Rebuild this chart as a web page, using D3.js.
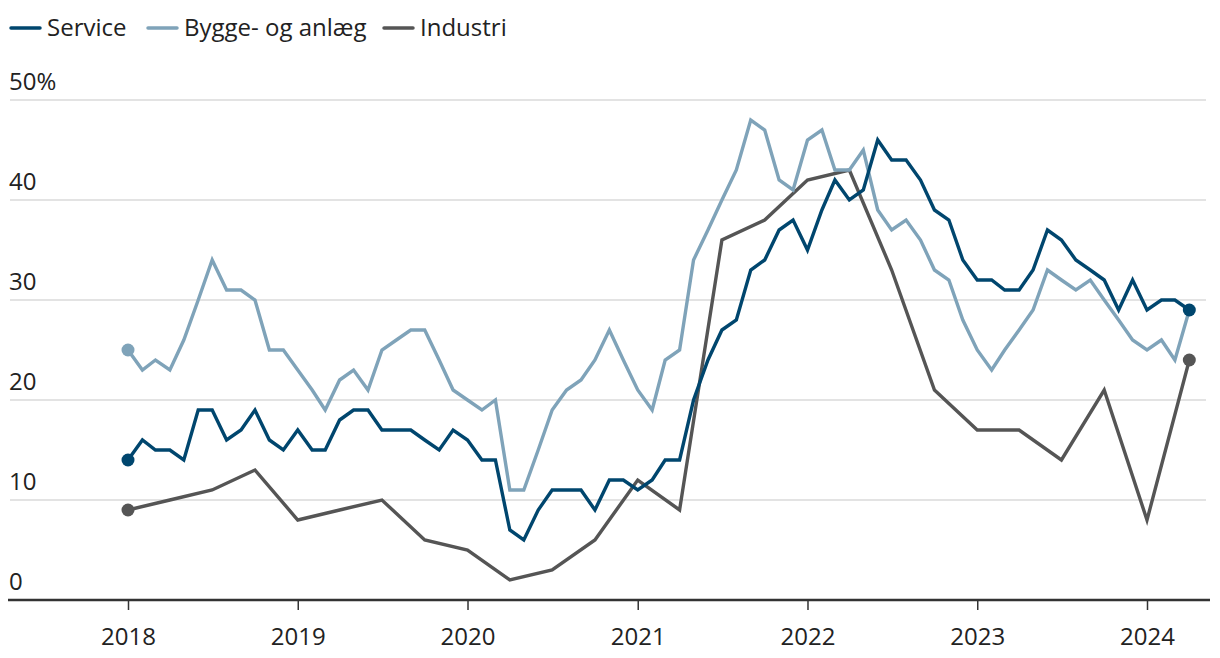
<!DOCTYPE html>
<html><head><meta charset="utf-8">
<script src="https://cdn.jsdelivr.net/npm/d3@7"></script>
<style>
body{margin:0;background:#fff;}
svg{display:block;font-family:"Open Sans",Lato,sans-serif;}
</style></head><body>
<svg id="c" width="1220" height="658"></svg>
<script>
const seriesNames = ["Service","Bygge- og anlæg","Industri"];
const colors = ["#00466e","#7fa3b9","#555555"];
const yTicks = [0,10,20,30,40,50];
const xTickYears = [2018,2019,2020,2021,2022,2023,2024];
// monthly from Jan 2018 to Apr 2024
const service = [14,16,15,15,14,19,19,16,17,19,16,15,
 17,15,15,18,19,19,17,17,17,16,15,17,
 16,14,14,7,6,9,11,11,11,9,12,12,
 11,12,14,14,20,24,27,28,33,34,37,38,
 35,39,42,40,41,46,44,44,42,39,38,34,
 32,32,31,31,33,37,36,34,33,32,29,32,
 29,30,30,29];
const bygge = [25,23,24,23,26,30,34,31,31,30,25,25,
 23,21,19,22,23,21,25,26,27,27,24,21,
 20,19,20,11,11,15,19,21,22,24,27,24,
 21,19,24,25,34,37,40,43,48,47,42,41,
 46,47,43,43,45,39,37,38,36,33,32,28,
 25,23,25,27,29,33,32,31,32,30,28,26,
 25,26,24,29];
// quarterly (Jan, Apr, Jul, Oct) from Jan 2018 to Apr 2024
const industri = [9,10,11,13, 8,9,10,6, 5,2,3,6, 12,9,36,38, 42,43,33,21, 17,17,14,21, 8,24];

const monthly = (arr, step) => arr.map((v,i)=>({d:new Date(2018, i*step, 1), v}));
const data = [monthly(service,1), monthly(bygge,1), monthly(industri,3)];

const svg = d3.select("#c");
const x = d3.scaleTime().domain([new Date(2018,0,1), new Date(2024,0,1)]).range([128,1147]);
const y = d3.scaleLinear().domain([0,50]).range([600,100]);
const FF = "'Open Sans',Lato,sans-serif";
const FS = 24;

// gridlines
svg.append("g").selectAll("line").data(yTicks.filter(t=>t>0)).join("line")
  .attr("x1",10).attr("x2",1206).attr("y1",d=>y(d)).attr("y2",d=>y(d))
  .attr("stroke","#e3e3e3").attr("stroke-width",2);
// y labels
svg.append("g").selectAll("text").data(yTicks).join("text")
  .attr("x",9).attr("y",d=>y(d)-10).attr("font-size",FS).attr("fill","#222")
  .text(d=>d===50? d+"%" : d);

// x axis
const xAxis = d3.axisBottom(x).tickValues(xTickYears.map(yr=>new Date(yr,0,1)))
  .tickFormat(d3.timeFormat("%Y")).tickSize(10).tickPadding(18);
const gx = svg.append("g").attr("transform","translate(0,600)").call(xAxis);
gx.select(".domain").remove();
gx.selectAll(".tick line").attr("stroke","#333").attr("stroke-width",1.5);
gx.selectAll(".tick text").attr("font-size",FS).attr("fill","#222").attr("font-family",FF);
svg.append("line").attr("x1",8).attr("x2",1210).attr("y1",600).attr("y2",600)
  .attr("stroke","#333").attr("stroke-width",2.5);

// lines (draw Industri, Bygge, then Service on top)
const line = d3.line().x(d=>x(d.d)).y(d=>y(d.v));
[2,1,0].forEach(k=>{
  svg.append("path").datum(data[k]).attr("d",line).attr("fill","none")
    .attr("stroke",colors[k]).attr("stroke-width",3.4).attr("stroke-linejoin","miter");
});
// start dots
[2,1,0].forEach(k=>{
  svg.append("circle").attr("cx",x(data[k][0].d)).attr("cy",y(data[k][0].v)).attr("r",6.5).attr("fill",colors[k]);
});
// end dots for Service and Industri
[2,0].forEach(k=>{
  const last = data[k][data[k].length-1];
  svg.append("circle").attr("cx",x(last.d)).attr("cy",y(last.v)).attr("r",6.5).attr("fill",colors[k]);
});

// legend
const legX = [10,147,383];
const lg = svg.append("g");
seriesNames.forEach((n,i)=>{
  lg.append("line").attr("x1",legX[i]+1).attr("x2",legX[i]+30).attr("y1",28).attr("y2",28)
    .attr("stroke",colors[i]).attr("stroke-width",3.5).attr("stroke-linecap","round");
  lg.append("text").attr("x",legX[i]+37).attr("y",36).attr("font-size",FS).attr("fill","#222").text(n);
});
</script>
</body></html>
